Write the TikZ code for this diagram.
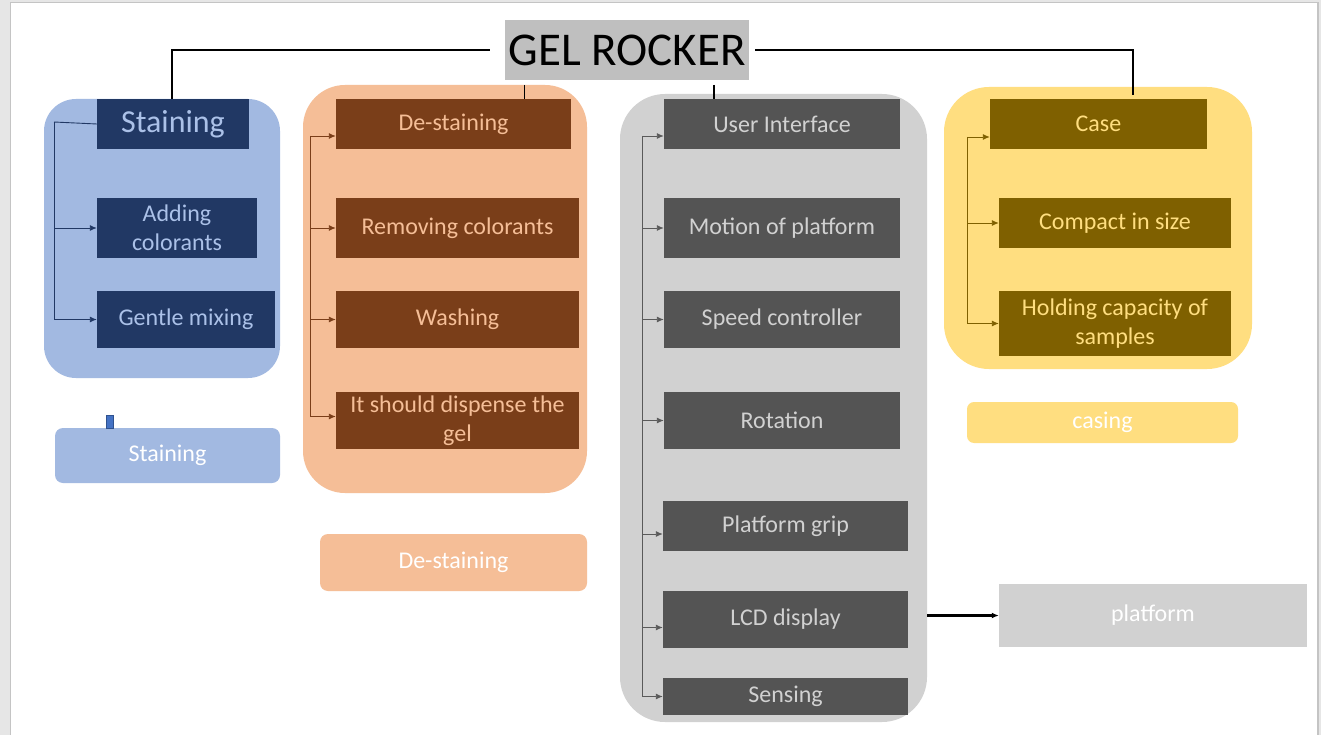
\documentclass[tikz,border=0pt]{standalone}
\usepackage{fontspec}
\setmainfont{Carlito}
\usetikzlibrary{arrows.meta}

\definecolor{pagebg}{HTML}{E6E6E6}
\definecolor{pageedge}{HTML}{C4C4C4}
\definecolor{titlegray}{HTML}{BFBFBF}
\definecolor{bluelight}{HTML}{A2B9E1}
\definecolor{bluedark}{HTML}{213864}
\definecolor{bluetext}{HTML}{ABC1E8}
\definecolor{orangelight}{HTML}{F5BE97}
\definecolor{orangedark}{HTML}{7A3E19}
\definecolor{graylight}{HTML}{D1D1D1}
\definecolor{graydark}{HTML}{545454}
\definecolor{grayline}{HTML}{5A5A5A}
\definecolor{goldlight}{HTML}{FFDE80}
\definecolor{golddark}{HTML}{7F6000}
\definecolor{markblue}{HTML}{4472C4}
\definecolor{markedge}{HTML}{2F528F}

\begin{document}
\begin{tikzpicture}[x=1pt, y=-1pt,
      dims/.style 2 args={minimum width=#1pt, minimum height=#2pt},
      panel/.style={rectangle, rounded corners=#1, inner sep=0pt},
      block/.style={rectangle, inner sep=0pt, align=center, font=\fontsize{24}{29}\selectfont},
      tagbox/.style={rectangle, rounded corners=8pt, inner sep=0pt, text=white, font=\fontsize{24}{29}\selectfont},
      line/.style={draw, -{Latex[length=7pt,width=6pt]}, line width=0.9pt},
      rule/.style={draw, line width=1.5pt}
      ]
    \useasboundingbox (0,0) rectangle (1321,735);
    \fill [pagebg] (0,0) rectangle (1321,735);
    \filldraw [fill=white, draw=pageedge, line width=1.2pt] (10.5,2.5) rectangle (1318,745);

    \node [panel=32pt, dims={236}{279}, fill=bluelight] (sg) at (162,238.5) {};
    \node [panel=42pt, dims={284}{408}, fill=orangelight] (og) at (445,289) {};
    \node [panel=45pt, dims={307}{628}, fill=graylight] (gg) at (773.5,408) {};
    \node [panel=45pt, dims={308}{282}, fill=goldlight] (yg) at (1098,228) {};

    \node [rectangle, inner sep=0pt, dims={244}{60}, fill=titlegray, font=\fontsize{47}{50}\selectfont] (gr) at (627,50) {GEL ROCKER};

    \node [block, dims={152}{50}, fill=bluedark, text=bluetext, font=\fontsize{32}{36}\selectfont] (sh) at (173,124) {Staining};
    \node [block, dims={160}{60}, fill=bluedark, text=bluetext] (ac) at (177,228) {Adding\\colorants};
    \node [block, dims={178}{57}, fill=bluedark, text=bluetext] (gm) at (186,319.5) {Gentle mixing};
    \node [tagbox, dims={225}{55}, fill=bluelight] (st) at (167.5,455.5) {Staining};
    \node [rectangle, inner sep=0pt, dims={7}{13}, fill=markblue, draw=markedge, line width=0.8pt] (mk) at (109.5,421.5) {};

    \node [block, dims={235}{50}, fill=orangedark, text=orangelight] (dh) at (453.5,124) {De-staining};
    \node [block, dims={243}{60}, fill=orangedark, text=orangelight] (rc) at (457.5,228) {Removing colorants};
    \node [block, dims={243}{57}, fill=orangedark, text=orangelight] (wa) at (457.5,319.5) {Washing};
    \node [block, dims={243}{57}, fill=orangedark, text=orangelight] (dp) at (457.5,420.5) {It should dispense the\\gel};
    \node [tagbox, dims={267}{57}, fill=orangelight] (ds) at (453.5,562.5) {De-staining};

    \node [block, dims={236}{50}, fill=graydark, text=graylight] (ui) at (782,124) {User Interface};
    \node [block, dims={236}{60}, fill=graydark, text=graylight] (mo) at (782,228) {Motion of platform};
    \node [block, dims={236}{57}, fill=graydark, text=graylight] (sp) at (782,319.5) {Speed controller};
    \node [block, dims={236}{57}, fill=graydark, text=graylight] (ro) at (782,420.5) {Rotation};
    \node [block, dims={245}{50}, fill=graydark, text=graylight] (pg) at (785.5,526) {Platform grip};
    \node [block, dims={245}{57}, fill=graydark, text=graylight] (lc) at (785.5,619.5) {LCD display};
    \node [block, dims={245}{37}, fill=graydark, text=graylight] (se) at (785.5,696.5) {Sensing};
    \node [block, dims={308}{63}, fill=graylight, text=white] (pf) at (1153,615.5) {platform};

    \node [block, dims={217}{50}, fill=golddark, text=goldlight] (cs) at (1098.5,124) {Case};
    \node [block, dims={232}{50}, fill=golddark, text=goldlight] (cp) at (1115,223) {Compact in size};
    \node [block, dims={232}{65}, fill=golddark, text=goldlight] (hc) at (1115,323.5) {Holding capacity of\\samples};
    \node [tagbox, rounded corners=7pt, dims={271}{41}, fill=goldlight] (cg) at (1102.5,422.5) {casing};

    \coordinate (detap) at (524,85);
    \coordinate (uitap) at (714,85);
    \coordinate (ytap) at (1133,95);
    \path [rule] ([xshift=-15pt]gr.west) -| ([xshift=-1pt]sh.north);
    \path [rule] ([xshift=6pt]gr.east) -| (ytap);
    \path [draw, line width=1pt] (detap) -- (detap |- dh.north);
    \path [draw, line width=1.4pt] (uitap) -- (uitap |- ui.north);

    \coordinate (sb) at (54,122);
    \path [draw, bluedark, line width=0.9pt] (sh.west) -- (sb);
    \path [line, bluedark] (sb) |- (gm.west);
    \path [line, bluedark] (sb |- ac.west) -- (ac.west);

    \coordinate (ob) at (310,136);
    \coordinate (dpin) at ([yshift=4pt]dp.west);
    \path [line, orangedark] (ob) -- (ob -| dh.west);
    \path [line, orangedark] (ob) |- (dpin);
    \path [line, orangedark] (ob |- rc.west) -- (rc.west);
    \path [line, orangedark] (ob |- wa.west) -- (wa.west);

    \coordinate (gb) at (642,136);
    \coordinate (pgin) at ([yshift=-8pt]pg.west);
    \coordinate (lcin) at ([yshift=-8pt]lc.west);
    \path [line, grayline] (gb) -- (gb -| ui.west);
    \path [line, grayline] (gb) |- (se.west);
    \path [line, grayline] (gb |- mo.west) -- (mo.west);
    \path [line, grayline] (gb |- sp.west) -- (sp.west);
    \path [line, grayline] (gb |- ro.west) -- (ro.west);
    \path [line, grayline] (gb |- pgin) -- (pgin);
    \path [line, grayline] (gb |- lcin) -- (lcin);

    \path [line, black, line width=2.2pt] (gg.east |- pf.west) -- (pf.west);

    \coordinate (yb) at (967,137);
    \path [line, golddark] (yb) -- (yb -| cs.west);
    \path [line, golddark] (yb) |- (hc.west);
    \path [line, golddark] (yb |- cp.west) -- (cp.west);
  \end{tikzpicture}
\end{document}
